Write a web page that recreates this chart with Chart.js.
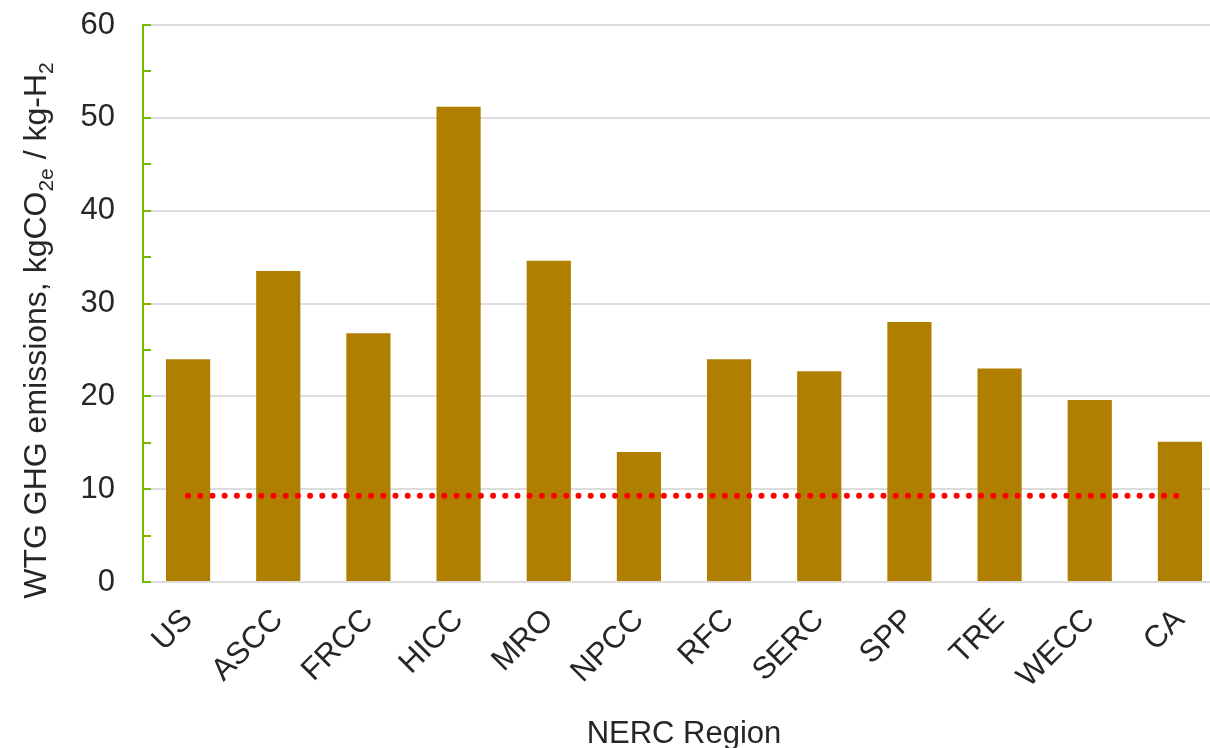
<!DOCTYPE html>
<html>
<head>
<meta charset="utf-8">
<title>WTG GHG emissions by NERC region</title>
<script src="https://cdn.jsdelivr.net/npm/chart.js@4.4.1/dist/chart.umd.min.js"></script>
<style>
  html, body { margin: 0; padding: 0; background: #ffffff; overflow: hidden; }
  #wrap { width: 1210px; height: 748px; overflow: hidden; position: relative; }
  canvas { display: block; }
</style>
</head>
<body>
<div id="wrap"><canvas id="chart" width="1226" height="748"></canvas></div>
<script>
// NERC regions (plus US average and California)
const regions = ['US', 'ASCC', 'FRCC', 'HICC', 'MRO', 'NPCC', 'RFC', 'SERC', 'SPP', 'TRE', 'WECC', 'CA'];
// Well-to-gate GHG emissions, kgCO2e per kg H2
const emissions = [24.0, 33.5, 26.8, 51.2, 34.6, 14.0, 24.0, 22.7, 28.0, 23.0, 19.6, 15.1];
// Reference threshold drawn as a dotted line across all regions
const thresholdValue = 9.3;
const threshold = regions.map(() => thresholdValue);
// Y axis: major ticks every 10, minor marks every 5
const yMin = 0, yMax = 60, yMajorStep = 10, yMinorStep = 5;

const FONT = "'Liberation Sans', Arial, sans-serif";
const TEXT = '#262626';
const AXIS_GREEN = '#7ab800';
const FONT_SIZE = 31;

// Green y axis tick marks drawn on the inside of the plot, at every minor step
const innerTicks = {
  id: 'innerTicks',
  afterDatasetsDraw(chart) {
    const y = chart.scales.y;
    const ctx = chart.ctx;
    const x0 = chart.chartArea.left;
    ctx.save();
    ctx.strokeStyle = AXIS_GREEN;
    ctx.lineWidth = 2;
    for (let v = yMin; v <= yMax; v += yMinorStep) {
      const py = Math.round(y.getPixelForValue(v));
      ctx.beginPath();
      ctx.moveTo(x0, py);
      ctx.lineTo(x0 + 8, py);
      ctx.stroke();
    }
    ctx.restore();
  }
};

// Rotated y axis title with subscripts
const yTitle = {
  id: 'yTitle',
  afterDraw(chart) {
    const ctx = chart.ctx;
    const area = chart.chartArea;
    const parts = [
      { t: 'WTG GHG emissions, kgCO', sub: false },
      { t: '2e', sub: true },
      { t: ' / kg-H', sub: false },
      { t: '2', sub: true }
    ];
    const big = '32px ' + FONT, small = '21px ' + FONT;
    ctx.save();
    let total = 0;
    parts.forEach(p => { ctx.font = p.sub ? small : big; p.w = ctx.measureText(p.t).width; total += p.w; });
    const cx = 37, cy = (area.top + area.bottom) / 2 + 27;
    ctx.translate(cx, cy);
    ctx.rotate(-Math.PI / 2);
    ctx.fillStyle = TEXT;
    ctx.textBaseline = 'middle';
    ctx.textAlign = 'left';
    let x = -total / 2;
    parts.forEach(p => {
      ctx.font = p.sub ? small : big;
      ctx.fillText(p.t, x, p.sub ? 10 : 0);
      x += p.w;
    });
    ctx.restore();
  }
};

new Chart(document.getElementById('chart'), {
  type: 'bar',
  data: {
    labels: regions,
    datasets: [
      {
        type: 'line',
        label: 'Threshold',
        data: threshold,
        borderColor: '#ff0000',
        borderWidth: 6,
        borderDash: [0, 12.2],
        borderCapStyle: 'round',
        pointRadius: 0,
        fill: false,
        order: 0
      },
      {
        type: 'bar',
        label: 'WTG GHG emissions',
        data: emissions,
        backgroundColor: '#b07f00',
        borderWidth: 0,
        barPercentage: 0.49,
        categoryPercentage: 1.0,
        order: 1
      }
    ]
  },
  options: {
    responsive: false,
    devicePixelRatio: 1,
    animation: false,
    layout: { padding: { top: 25, right: 1, left: 0, bottom: 0 } },
    plugins: {
      legend: { display: false },
      tooltip: { enabled: false }
    },
    scales: {
      x: {
        offset: true,
        grid: { display: false, drawTicks: false },
        border: { display: false },
        ticks: {
          color: TEXT,
          font: { family: FONT, size: FONT_SIZE },
          maxRotation: 45,
          minRotation: 45,
          padding: 20,
          autoSkip: false
        },
        title: {
          display: true,
          text: 'NERC Region',
          color: TEXT,
          font: { family: FONT, size: FONT_SIZE },
          padding: { top: 0, bottom: -5 }
        },
        afterFit(scale) {
          scale.height = 166;
          scale.paddingLeft = 0;
          scale.paddingRight = 0;
        }
      },
      y: {
        min: yMin,
        max: yMax,
        grid: { color: '#dcdcdc', lineWidth: 2, drawTicks: false },
        border: { display: true, color: AXIS_GREEN, width: 2 },
        ticks: {
          stepSize: yMajorStep,
          color: TEXT,
          font: { family: FONT, size: FONT_SIZE },
          padding: 28
        },
        afterFit(scale) {
          scale.width = 143;
          scale.paddingTop = 0;
          scale.paddingBottom = 0;
        }
      }
    }
  },
  plugins: [innerTicks, yTitle]
});
</script>
</body>
</html>
